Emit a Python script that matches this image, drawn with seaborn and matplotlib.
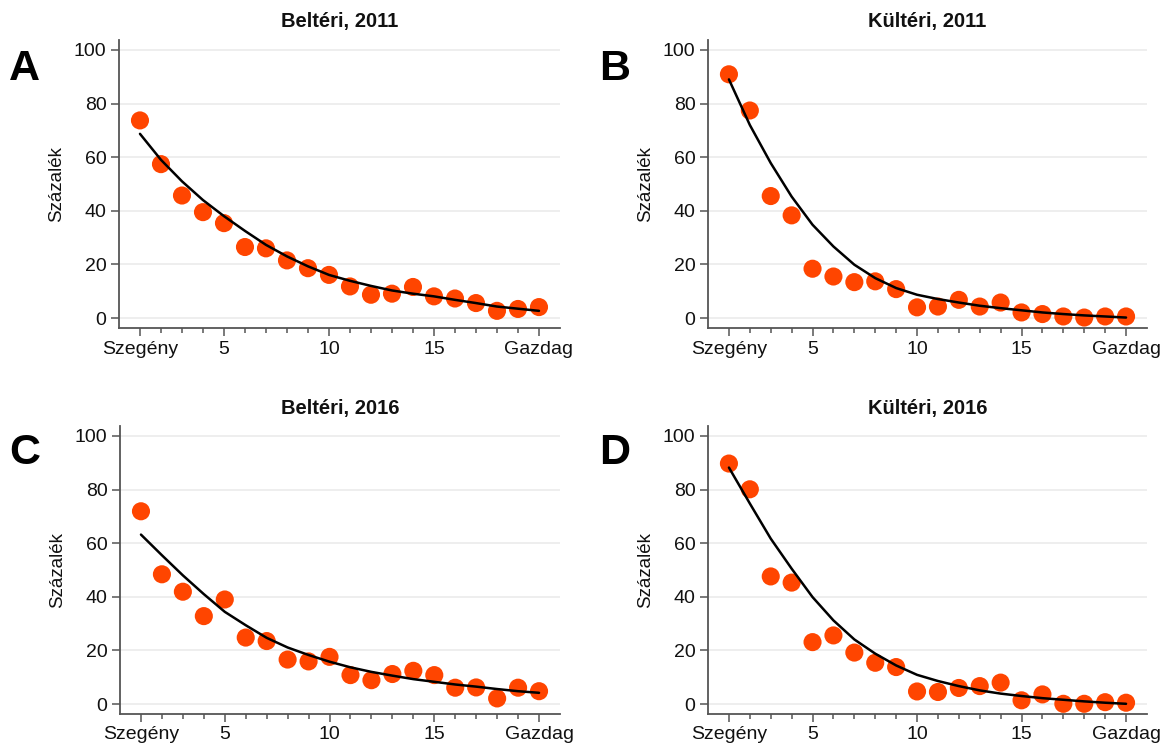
import matplotlib
matplotlib.use("Agg")
from matplotlib import pyplot as plt
import seaborn as sns
import pandas as pd

# ----------- DATA ------------
deciles = list(range(1, 21))
tick_positions = [1, 5, 10, 15, 20]
tick_labels = ["Szegény", "5", "10", "15", "Gazdag"]

titles = ["Beltéri, 2011", "Kültéri, 2011", "Beltéri, 2016", "Kültéri, 2016"]
letters = ["A", "B", "C", "D"]

beltéri_2011 = [73.7, 57.4, 45.7, 39.5, 35.4, 26.5, 26.0, 21.5, 18.6, 16.1,
                11.8, 8.7, 9.1, 11.6, 8.1, 7.3, 5.6, 2.7, 3.4, 4.1]
beltéri_2011_fit = [68.7, 59.0, 51.0, 44.0, 38.0, 32.5, 27.3, 23.0, 19.3, 16.1,
                    13.9, 12.0, 10.3, 9.1, 8.1, 6.8, 5.6, 4.3, 3.5, 2.7]

kültéri_2011 = [90.9, 77.4, 45.5, 38.3, 18.4, 15.5, 13.4, 13.7, 10.8, 4.0,
                4.3, 6.8, 4.3, 5.8, 2.1, 1.5, 0.6, 0.2, 0.6, 0.6]
kültéri_2011_fit = [89.0, 72.0, 57.8, 45.3, 34.8, 26.7, 19.9, 14.9, 11.2, 8.7,
                    7.1, 5.8, 4.6, 3.7, 2.9, 2.1, 1.5, 1.0, 0.6, 0.2]

beltéri_2016 = [71.9, 48.4, 41.9, 32.8, 39.0, 24.8, 23.5, 16.6, 15.9, 17.6,
                10.8, 8.9, 11.2, 12.4, 10.8, 6.1, 6.2, 2.1, 6.1, 4.8]
beltéri_2016_fit = [63.2, 55.5, 48.0, 41.0, 34.4, 29.4, 24.7, 21.1, 18.3, 15.8,
                    13.7, 12.0, 10.6, 9.3, 8.3, 7.3, 6.5, 5.6, 4.8, 4.2]

kültéri_2016 = [89.7, 80.1, 47.6, 45.3, 23.1, 25.6, 19.2, 15.4, 13.8, 4.7,
                4.5, 6.0, 6.7, 8.0, 1.4, 3.6, 0.1, 0.1, 0.7, 0.5]
kültéri_2016_fit = [88.2, 74.8, 61.7, 50.5, 39.9, 31.2, 24.1, 18.8, 14.4, 10.9,
                    8.6, 6.7, 5.1, 3.9, 3.0, 2.2, 1.6, 1.0, 0.5, 0.1]
# ----------- END ------------

series = [(beltéri_2011, beltéri_2011_fit), (kültéri_2011, kültéri_2011_fit),
          (beltéri_2016, beltéri_2016_fit), (kültéri_2016, kültéri_2016_fit)]

sns.set_theme(style="white")
plt.rcParams['font.family'] = ['Liberation Sans', 'DejaVu Sans']

fig = plt.figure(figsize=(11.63, 7.47), dpi=100)

# axes boxes in figure fractions: [left, bottom, width, height]
boxes = [
    [0.1023, 0.5609, 0.3792, 0.3856],
    [0.6088, 0.5609, 0.3774, 0.3856],
    [0.1032, 0.0442, 0.3783, 0.3855],
    [0.6088, 0.0442, 0.3774, 0.3855],
]
letter_pos = [(0.008, 0.908), (0.515, 0.908), (0.008, 0.393), (0.515, 0.393)]

for i, (dots, fit) in enumerate(series):
    ax = fig.add_axes(boxes[i])
    df = pd.DataFrame({"x": deciles, "y": dots, "fit": fit})

    sns.lineplot(data=df, x="x", y="fit", ax=ax, color="black", linewidth=1.8, zorder=3)
    sns.scatterplot(data=df, x="x", y="y", ax=ax, color="#ff4500", s=170,
                    edgecolor="none", zorder=2)

    ax.set_xlim(0, 21)
    ax.set_ylim(-3.7, 103.7)
    ax.set_yticks([0, 20, 40, 60, 80, 100])
    ax.set_xticks(tick_positions)
    ax.set_xticklabels(tick_labels)
    ax.set_xticks(deciles, minor=True)
    ax.grid(axis="y", color="#ebebeb", linewidth=1.2)
    ax.set_axisbelow(True)

    for side in ("top", "right"):
        ax.spines[side].set_visible(False)
    for side in ("left", "bottom"):
        ax.spines[side].set_color("#555555")
        ax.spines[side].set_linewidth(1.3)

    ax.tick_params(axis="both", which="major", labelsize=14, length=6, width=1.1,
                   color="#555555", direction="out", bottom=True, left=True,
                   labelcolor="#111111", pad=3)
    ax.tick_params(axis="x", which="minor", length=3.5, width=1.1, color="#555555",
                   direction="out", bottom=True)

    ax.set_xlabel("")
    ax.set_ylabel("Százalék", fontsize=13.5, color="#111111", labelpad=6)
    ax.set_title(titles[i], fontsize=14.5, fontweight="bold", color="#111111", pad=9)

    fig.text(letter_pos[i][0], letter_pos[i][1], letters[i], fontsize=31,
             fontweight="bold", va="center", ha="left", color="black")

fig.savefig("out.png", dpi=100)
